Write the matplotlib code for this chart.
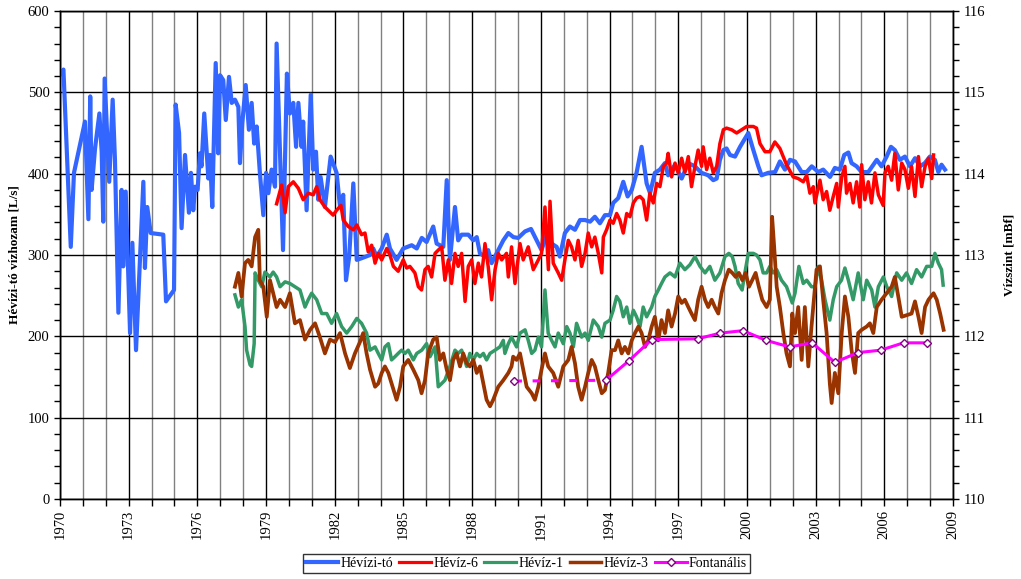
import matplotlib
matplotlib.use("Agg")
import matplotlib.pyplot as plt
from matplotlib.ticker import MultipleLocator
from matplotlib.lines import Line2D

plt.rcParams['font.family'] = ['Liberation Serif', 'DejaVu Serif']

# ---------------- data ----------------
labels = ["Hévízi-tó", "Hévíz-6", "Hévíz-1", "Hévíz-3", "Fontanális"]

# Hévízi-tó discharge [L/s] (left axis)
lake_years = [1970.04, 1970.15, 1970.47, 1970.61, 1971.09, 1971.24, 1971.32, 1971.38, 1971.53, 1971.72,
              1971.82, 1971.89, 1971.95, 1972.15, 1972.30, 1972.40, 1972.55, 1972.69, 1972.76, 1972.87,
              1973.06, 1973.16, 1973.32, 1973.64, 1973.71, 1973.81, 1973.96, 1974.51, 1974.63, 1974.98,
              1975.05, 1975.20, 1975.31, 1975.46, 1975.63, 1975.72, 1975.82, 1975.90, 1976.01, 1976.11,
              1976.18, 1976.30, 1976.48, 1976.55, 1976.65, 1976.80, 1976.91, 1976.99, 1977.13, 1977.24,
              1977.38, 1977.50, 1977.64, 1977.79, 1977.86, 1977.96, 1978.11, 1978.25, 1978.37, 1978.48,
              1978.59, 1978.73, 1978.88, 1979.00, 1979.10, 1979.24, 1979.39, 1979.46, 1979.74, 1979.91,
              1980.04, 1980.19, 1980.31, 1980.41, 1980.55, 1980.62, 1980.77, 1980.95, 1981.06, 1981.18,
              1981.28, 1981.38, 1981.57, 1981.82, 1982.08, 1982.23, 1982.37, 1982.49, 1982.63, 1982.81,
              1982.96, 1983.17, 1983.54, 1983.68, 1983.83, 1984.05, 1984.27, 1984.41, 1984.70, 1984.99,
              1985.36, 1985.58, 1985.80, 1986.01, 1986.30, 1986.45, 1986.74, 1986.89, 1987.03, 1987.25,
              1987.39, 1987.54, 1987.83, 1988.05, 1988.20, 1988.34, 1988.56, 1988.70, 1988.85, 1989.07,
              1989.36, 1989.58, 1989.80, 1990.01, 1990.31, 1990.57, 1990.82, 1991.03, 1991.25, 1991.47,
              1991.69, 1991.83, 1992.05, 1992.27, 1992.49, 1992.71, 1992.93, 1993.15, 1993.36, 1993.58,
              1993.80, 1994.02, 1994.16, 1994.38, 1994.60, 1994.79, 1994.97, 1995.18, 1995.40, 1995.62,
              1995.77, 1995.98, 1996.20, 1996.42, 1996.56, 1996.86, 1997.15, 1997.44, 1997.73, 1998.02,
              1998.31, 1998.53, 1998.68, 1998.82, 1998.97, 1999.11, 1999.26, 1999.48, 1999.70, 1999.91,
              2000.06, 2000.28, 2000.50, 2000.64, 2000.93, 2001.23, 2001.44, 2001.66, 2001.88, 2002.10,
              2002.39, 2002.61, 2002.83, 2003.12, 2003.33, 2003.63, 2003.84, 2004.06, 2004.25, 2004.43,
              2004.57, 2004.79, 2005.01, 2005.30, 2005.52, 2005.67, 2005.88, 2006.10, 2006.29, 2006.46,
              2006.68, 2006.90, 2007.12, 2007.34, 2007.56, 2007.77, 2007.99, 2008.21, 2008.36, 2008.50,
              2008.65]
lake_flow = [523, 528, 310, 401, 464, 344, 495, 380, 431, 474,
             427, 341, 517, 390, 491, 417, 229, 380, 286, 378,
             204, 315, 183, 390, 284, 359, 327, 325, 243, 257,
             485, 450, 333, 423, 352, 401, 355, 384, 380, 425,
             409, 474, 394, 423, 359, 536, 425, 521, 515, 466,
             519, 487, 491, 482, 413, 462, 509, 454, 487, 437,
             458, 401, 349, 401, 376, 405, 384, 560, 306, 523,
             474, 487, 433, 487, 433, 464, 355, 497, 405, 427,
             368, 396, 359, 421, 401, 359, 374, 269, 298, 388,
             294, 296, 300, 308, 298, 308, 325, 308, 294, 308,
             312, 308, 321, 316, 335, 314, 310, 392, 294, 359,
             318, 325, 325, 318, 322, 302, 298, 306, 290, 302,
             318, 327, 322, 321, 329, 332, 318, 306, 325, 314,
             310, 298, 327, 335, 331, 343, 343, 341, 347, 339,
             349, 349, 364, 370, 390, 372, 380, 401, 433, 388,
             376, 401, 405, 413, 398, 411, 394, 413, 409, 401,
             398, 392, 394, 417, 429, 431, 423, 421, 433, 443,
             450, 429, 409, 398, 401, 402, 415, 405, 417, 415,
             402, 402, 409, 402, 405, 396, 407, 405, 423, 426,
             413, 409, 402, 402, 411, 417, 409, 421, 433, 429,
             417, 421, 409, 419, 409, 413, 421, 417, 402, 411,
             405]

# Hévíz-6 water level [mBf] (right axis)
h6_years = [1979.46, 1979.68, 1979.83, 1979.97, 1980.19, 1980.41, 1980.62, 1980.84, 1981.06, 1981.21,
            1981.35, 1981.57, 1981.79, 1981.93, 1982.08, 1982.27, 1982.37, 1982.59, 1982.81, 1982.96,
            1983.17, 1983.32, 1983.46, 1983.61, 1983.76, 1983.90, 1984.05, 1984.27, 1984.41, 1984.56,
            1984.77, 1984.99, 1985.14, 1985.28, 1985.50, 1985.65, 1985.79, 1985.94, 1986.08, 1986.23,
            1986.38, 1986.52, 1986.67, 1986.81, 1986.96, 1987.10, 1987.25, 1987.39, 1987.54, 1987.69,
            1987.83, 1987.98, 1988.12, 1988.27, 1988.41, 1988.56, 1988.70, 1988.85, 1989.00, 1989.14,
            1989.29, 1989.50, 1989.58, 1989.72, 1989.87, 1990.09, 1990.23, 1990.45, 1990.67, 1990.89,
            1991.03, 1991.18, 1991.33, 1991.40, 1991.54, 1991.76, 1991.91, 1992.05, 1992.20, 1992.34,
            1992.49, 1992.63, 1992.78, 1992.93, 1993.07, 1993.22, 1993.36, 1993.51, 1993.66, 1993.73,
            1993.87, 1994.02, 1994.16, 1994.31, 1994.45, 1994.60, 1994.75, 1994.89, 1995.04, 1995.18,
            1995.33, 1995.47, 1995.62, 1995.76, 1995.91, 1996.06, 1996.20, 1996.35, 1996.49, 1996.56,
            1996.71, 1996.86, 1997.00, 1997.15, 1997.29, 1997.44, 1997.58, 1997.73, 1997.87, 1998.02,
            1998.09, 1998.24, 1998.38, 1998.53, 1998.68, 1998.82, 1998.97, 1999.11, 1999.33, 1999.55,
            1999.77, 1999.99, 2000.28, 2000.42, 2000.57, 2000.79, 2001.00, 2001.22, 2001.44, 2001.73,
            2002.02, 2002.24, 2002.46, 2002.61, 2002.75, 2002.90, 2002.97, 2003.19, 2003.33, 2003.48,
            2003.62, 2003.77, 2003.92, 2003.99, 2004.14, 2004.28, 2004.35, 2004.50, 2004.64, 2004.79,
            2004.93, 2005.01, 2005.15, 2005.30, 2005.44, 2005.59, 2005.74, 2005.95, 2006.03, 2006.17,
            2006.32, 2006.46, 2006.61, 2006.76, 2006.90, 2007.05, 2007.19, 2007.34, 2007.49, 2007.63,
            2007.78, 2007.93, 2008.07, 2008.15]
h6_level = [113.63, 113.86, 113.52, 113.84, 113.90, 113.82, 113.68, 113.76, 113.74, 113.84,
            113.68, 113.59, 113.53, 113.49, 113.55, 113.61, 113.43, 113.35, 113.31, 113.37,
            113.25, 113.27, 113.04, 113.12, 112.90, 113.02, 112.94, 113.08, 113.00, 112.86,
            112.80, 112.94, 112.84, 112.86, 112.78, 112.61, 112.57, 112.82, 112.86, 112.73,
            113.02, 113.06, 113.10, 112.69, 112.94, 112.65, 113.02, 112.86, 113.02, 112.43,
            112.86, 112.94, 112.65, 112.90, 112.73, 113.14, 112.86, 112.45, 112.82, 113.02,
            112.94, 113.02, 112.73, 113.10, 112.65, 113.14, 112.94, 113.10, 112.82, 112.94,
            113.02, 113.59, 112.82, 113.66, 112.90, 112.78, 112.69, 112.94, 113.18, 113.10,
            112.94, 113.18, 112.86, 113.02, 113.27, 113.10, 113.22, 113.02, 112.78, 113.22,
            113.31, 113.43, 113.39, 113.51, 113.43, 113.27, 113.51, 113.47, 113.64, 113.70,
            113.72, 113.68, 113.43, 113.76, 113.64, 113.88, 113.84, 114.09, 114.13, 114.25,
            113.96, 114.13, 114.01, 114.19, 114.02, 114.21, 113.84, 114.09, 114.29, 114.09,
            114.33, 114.05, 114.19, 114.01, 114.09, 114.37, 114.54, 114.56, 114.54, 114.50,
            114.54, 114.58, 114.58, 114.56, 114.37, 114.27, 114.27, 114.39, 114.31, 114.11,
            113.96, 113.94, 113.90, 113.98, 113.76, 113.84, 113.64, 113.92, 113.68, 113.78,
            113.55, 113.72, 113.88, 113.59, 113.96, 114.09, 113.76, 113.88, 113.64, 113.90,
            113.59, 114.11, 113.68, 113.90, 113.64, 114.01, 113.74, 113.61, 114.01, 114.09,
            113.92, 114.25, 113.80, 114.13, 114.05, 113.82, 114.09, 113.72, 114.21, 113.84,
            114.09, 114.19, 113.94, 114.23]

# Hévíz-1 water level [mBf]
h1_years = [1977.64, 1977.79, 1977.93, 1978.08, 1978.15, 1978.30, 1978.37, 1978.48, 1978.52, 1978.66,
            1978.81, 1978.95, 1979.17, 1979.31, 1979.46, 1979.61, 1979.83, 1980.04, 1980.26, 1980.48,
            1980.70, 1980.84, 1980.99, 1981.21, 1981.43, 1981.65, 1981.86, 1982.08, 1982.30, 1982.52,
            1982.74, 1982.96, 1983.17, 1983.39, 1983.54, 1983.76, 1983.90, 1984.05, 1984.19, 1984.34,
            1984.48, 1984.63, 1984.77, 1984.92, 1985.07, 1985.21, 1985.43, 1985.58, 1985.80, 1986.01,
            1986.16, 1986.38, 1986.52, 1986.67, 1986.81, 1987.03, 1987.25, 1987.39, 1987.54, 1987.76,
            1987.90, 1988.05, 1988.20, 1988.34, 1988.49, 1988.63, 1988.78, 1989.00, 1989.21, 1989.36,
            1989.43, 1989.58, 1989.72, 1989.94, 1990.09, 1990.31, 1990.45, 1990.60, 1990.74, 1990.89,
            1991.03, 1991.18, 1991.32, 1991.47, 1991.62, 1991.76, 1991.98, 1992.13, 1992.27, 1992.42,
            1992.56, 1992.78, 1992.93, 1993.07, 1993.29, 1993.51, 1993.66, 1993.80, 1994.02, 1994.16,
            1994.31, 1994.45, 1994.60, 1994.75, 1994.89, 1995.04, 1995.18, 1995.33, 1995.47, 1995.62,
            1995.84, 1995.98, 1996.13, 1996.27, 1996.42, 1996.64, 1996.86, 1997.07, 1997.29, 1997.51,
            1997.73, 1997.95, 1998.17, 1998.38, 1998.60, 1998.82, 1999.04, 1999.21, 1999.36, 1999.48,
            1999.62, 1999.79, 1999.91, 2000.06, 2000.28, 2000.42, 2000.57, 2000.71, 2000.86, 2001.00,
            2001.15, 2001.30, 2001.51, 2001.73, 2001.88, 2001.98, 2002.10, 2002.27, 2002.46, 2002.61,
            2002.82, 2002.97, 2003.12, 2003.26, 2003.41, 2003.62, 2003.77, 2003.92, 2004.13, 2004.28,
            2004.43, 2004.64, 2004.86, 2005.08, 2005.23, 2005.45, 2005.59, 2005.74, 2005.96, 2006.11,
            2006.32, 2006.54, 2006.76, 2006.97, 2007.19, 2007.41, 2007.63, 2007.85, 2008.07, 2008.21,
            2008.36, 2008.50, 2008.57]
h1_level = [112.51, 112.36, 112.45, 112.12, 111.83, 111.65, 111.63, 111.91, 112.78, 112.69,
            112.61, 112.79, 112.73, 112.79, 112.73, 112.61, 112.67, 112.65, 112.61, 112.57,
            112.36, 112.45, 112.53, 112.45, 112.28, 112.28, 112.16, 112.28, 112.12, 112.04,
            112.12, 112.22, 112.16, 112.04, 111.83, 111.87, 111.79, 111.71, 111.87, 111.91,
            111.71, 111.75, 111.79, 111.83, 111.79, 111.83, 111.71, 111.79, 111.83, 111.91,
            111.75, 111.87, 111.38, 111.42, 111.46, 111.63, 111.83, 111.79, 111.83, 111.63,
            111.79, 111.71, 111.79, 111.75, 111.79, 111.71, 111.79, 111.83, 111.87, 111.95,
            111.79, 111.91, 111.99, 111.87, 112.04, 112.08, 111.95, 111.79, 111.83, 111.99,
            111.87, 112.57, 112.04, 111.95, 111.87, 112.04, 111.91, 112.12, 112.04, 111.87,
            112.16, 111.99, 112.04, 111.95, 112.20, 112.12, 111.99, 112.16, 112.20, 112.32,
            112.49, 112.43, 112.24, 112.36, 112.16, 112.32, 112.24, 112.12, 112.36, 112.24,
            112.36, 112.49, 112.57, 112.65, 112.73, 112.78, 112.73, 112.90, 112.82, 112.88,
            112.98, 112.86, 112.78, 112.86, 112.69, 112.78, 112.98, 113.02, 112.98, 112.86,
            112.65, 112.57, 112.78, 113.02, 113.02, 113.00, 112.94, 112.78, 112.78, 112.86,
            112.78, 112.82, 112.69, 112.61, 112.49, 112.41, 112.53, 112.86, 112.65, 112.69,
            112.61, 112.61, 112.86, 112.69, 112.45, 112.20, 112.45, 112.61, 112.69, 112.84,
            112.69, 112.45, 112.78, 112.45, 112.69, 112.57, 112.36, 112.61, 112.73, 112.61,
            112.49, 112.78, 112.69, 112.78, 112.65, 112.82, 112.73, 112.86, 112.86, 113.02,
            112.90, 112.82, 112.63]

# Hévíz-3 water level [mBf]
h3_years = [1977.64, 1977.79, 1977.93, 1978.08, 1978.22, 1978.37, 1978.52, 1978.66, 1978.73, 1978.88,
            1979.03, 1979.17, 1979.31, 1979.46, 1979.61, 1979.83, 1980.04, 1980.26, 1980.48, 1980.70,
            1980.92, 1981.14, 1981.35, 1981.57, 1981.79, 1982.01, 1982.23, 1982.45, 1982.66, 1982.88,
            1983.10, 1983.24, 1983.39, 1983.54, 1983.76, 1983.90, 1984.05, 1984.19, 1984.34, 1984.48,
            1984.70, 1984.85, 1984.99, 1985.21, 1985.43, 1985.65, 1985.79, 1985.94, 1986.08, 1986.30,
            1986.45, 1986.59, 1986.74, 1986.89, 1987.03, 1987.17, 1987.32, 1987.47, 1987.61, 1987.76,
            1987.90, 1988.05, 1988.20, 1988.34, 1988.49, 1988.63, 1988.78, 1988.92, 1989.14, 1989.36,
            1989.58, 1989.72, 1989.79, 1989.94, 1990.09, 1990.23, 1990.38, 1990.60, 1990.74, 1990.89,
            1991.03, 1991.18, 1991.32, 1991.54, 1991.76, 1991.98, 1992.20, 1992.34, 1992.49, 1992.63,
            1992.78, 1992.93, 1993.07, 1993.22, 1993.36, 1993.51, 1993.66, 1993.80, 1993.94, 1994.09,
            1994.24, 1994.38, 1994.53, 1994.67, 1994.82, 1994.97, 1995.11, 1995.26, 1995.40, 1995.55,
            1995.69, 1995.84, 1995.98, 1996.13, 1996.27, 1996.42, 1996.56, 1996.71, 1996.86, 1997.00,
            1997.15, 1997.29, 1997.44, 1997.58, 1997.73, 1997.87, 1998.02, 1998.17, 1998.31, 1998.46,
            1998.60, 1998.75, 1998.89, 1999.04, 1999.21, 1999.36, 1999.51, 1999.65, 1999.80, 1999.94,
            2000.09, 2000.23, 2000.38, 2000.52, 2000.67, 2000.86, 2001.00, 2001.10, 2001.19, 2001.30,
            2001.44, 2001.59, 2001.73, 2001.88, 2001.98, 2002.10, 2002.24, 2002.39, 2002.53, 2002.68,
            2002.82, 2003.04, 2003.19, 2003.33, 2003.48, 2003.62, 2003.70, 2003.84, 2003.99, 2004.14,
            2004.28, 2004.43, 2004.57, 2004.72, 2004.86, 2005.01, 2005.23, 2005.37, 2005.52, 2005.67,
            2005.88, 2006.10, 2006.32, 2006.46, 2006.61, 2006.76, 2006.97, 2007.19, 2007.34, 2007.49,
            2007.63, 2007.78, 2007.93, 2008.15, 2008.29, 2008.44, 2008.59]
h3_level = [112.61, 112.78, 112.49, 112.90, 112.94, 112.86, 113.22, 113.31, 112.69, 112.61,
            112.24, 112.69, 112.53, 112.36, 112.45, 112.36, 112.53, 112.16, 112.20, 111.96,
            112.08, 112.16, 111.99, 111.79, 111.96, 111.93, 112.04, 111.79, 111.61, 111.79,
            111.93, 112.04, 111.79, 111.59, 111.38, 111.42, 111.55, 111.63, 111.55, 111.42,
            111.22, 111.38, 111.63, 111.71, 111.59, 111.46, 111.30, 111.46, 111.79, 111.96,
            111.99, 111.71, 111.79, 111.59, 111.46, 111.71, 111.79, 111.63, 111.79, 111.67,
            111.63, 111.71, 111.55, 111.63, 111.42, 111.22, 111.14, 111.22, 111.38, 111.46,
            111.55, 111.63, 111.75, 111.71, 111.79, 111.59, 111.38, 111.30, 111.22, 111.38,
            111.59, 111.79, 111.63, 111.55, 111.38, 111.63, 111.71, 111.87, 111.67, 111.38,
            111.22, 111.38, 111.55, 111.71, 111.63, 111.46, 111.30, 111.34, 111.55, 111.83,
            111.83, 111.95, 111.79, 111.87, 111.79, 111.95, 112.04, 112.12, 112.04, 111.87,
            111.95, 112.12, 112.24, 111.95, 112.20, 112.04, 112.32, 112.12, 112.28, 112.49,
            112.41, 112.45, 112.36, 112.28, 112.20, 112.45, 112.61, 112.45, 112.36, 112.45,
            112.36, 112.28, 112.53, 112.69, 112.82, 112.78, 112.73, 112.78, 112.69, 112.78,
            112.61, 112.69, 112.78, 112.61, 112.45, 112.36, 112.45, 113.47, 113.10, 112.61,
            112.36, 112.04, 111.79, 111.63, 112.28, 112.04, 112.36, 111.71, 112.36, 111.63,
            112.12, 112.82, 112.86, 112.45, 112.04, 111.42, 111.18, 111.55, 111.30, 112.04,
            112.49, 112.24, 111.83, 111.55, 112.04, 112.08, 112.12, 112.16, 112.04, 112.36,
            112.45, 112.53, 112.61, 112.73, 112.49, 112.24, 112.26, 112.28, 112.43, 112.24,
            112.04, 112.36, 112.45, 112.53, 112.45, 112.28, 112.08]

# Fontanális water level [mBf]
font_years = [1989.84, 1993.84, 1994.85, 1995.84, 1997.85, 1998.84, 1999.83, 2000.84, 2001.86,
              2002.85, 2003.84, 2004.85, 2005.84, 2006.84, 2007.85]
font_level = [111.45, 111.46, 111.70, 111.96, 111.97, 112.04, 112.07, 111.95, 111.87,
              111.92, 111.68, 111.80, 111.83, 111.92, 111.92]

x_ticks = list(range(1970, 2010, 3))
left_ticks = [0, 100, 200, 300, 400, 500, 600]
right_ticks = [110, 111, 112, 113, 114, 115, 116]

# ---------------- figure ----------------
W, H = 1021, 579
fig = plt.figure(figsize=(W / 100, H / 100), dpi=100)
ax = fig.add_axes([60 / W, 1 - 499 / H, 893 / W, 488 / H])
ax2 = ax.twinx()

c_lake, c_h6, c_h1, c_h3, c_font = "#3366FF", "#FF0000", "#339966", "#993300", "#FF00FF"

ax.plot(lake_years, lake_flow, color=c_lake, lw=3.0, solid_joinstyle="round", zorder=3)
ax2.plot(h1_years, h1_level, color=c_h1, lw=2.5, zorder=2)
ax2.plot(h3_years, h3_level, color=c_h3, lw=2.7, zorder=3)
ax2.plot(h6_years, h6_level, color=c_h6, lw=2.5, zorder=4)
ax2.plot(font_years[:2], font_level[:2], color=c_font, lw=2.2, ls=(0, (2.5, 3.5)), zorder=5)
ax2.plot(font_years[1:], font_level[1:], color=c_font, lw=2.2, zorder=5)
ax2.plot(font_years, font_level, ls="none", marker="D", ms=4.5, mfc="white",
         mec="#800080", mew=1.0, zorder=6)

ax.set_xlim(1970, 2009)
ax.set_ylim(0, 600)
ax2.set_ylim(110, 116)

ax.set_xticks(x_ticks)
ax.xaxis.set_minor_locator(MultipleLocator(1))
ax.set_yticks(left_ticks)
ax.yaxis.set_minor_locator(MultipleLocator(20))
ax2.set_yticks(right_ticks)
ax2.yaxis.set_minor_locator(MultipleLocator(0.2))

ax.grid(which="major", axis="both", color="black", lw=1.0)
ax.grid(which="minor", axis="x", color="#808080", lw=1.0)
ax.set_axisbelow(True)

for a in (ax, ax2):
    for s in a.spines.values():
        s.set_color("black")
        s.set_linewidth(1.0)

ax.tick_params(axis="x", which="both", direction="out", length=5, width=1, labelsize=10.5,
               labelrotation=90, pad=3)
ax.tick_params(axis="y", which="both", direction="out", length=4, width=1, labelsize=10.5)
ax2.tick_params(axis="y", which="both", direction="out", length=4, width=1, labelsize=10.5)

fig.text(15 / W, 1 - 255 / H, "Hévízi-tó vízhozam [L/s]", rotation=90, ha="center", va="center",
         fontsize=9.5, fontweight="bold")
fig.text(1009 / W, 1 - 255 / H, "Vízszint [mBf]", rotation=90, ha="center", va="center",
         fontsize=9.5, fontweight="bold")

handles = [
    Line2D([], [], color=c_lake, lw=3.0),
    Line2D([], [], color=c_h6, lw=2.3),
    Line2D([], [], color=c_h1, lw=2.3),
    Line2D([], [], color=c_h3, lw=2.5),
    Line2D([], [], color=c_font, lw=2.2, marker="D", ms=4.5, mfc="white", mec="#800080", mew=1.0),
]
leg = fig.legend(handles, labels, loc="center", bbox_to_anchor=(526.5 / W, 1 - 563.5 / H), ncol=5,
                 frameon=True, fancybox=False, edgecolor="black", fontsize=10, handlelength=2.3,
                 handletextpad=0.15, columnspacing=0.45, borderpad=0.25, borderaxespad=0)
leg.get_frame().set_linewidth(1.0)

fig.savefig("out.png", dpi=100)
